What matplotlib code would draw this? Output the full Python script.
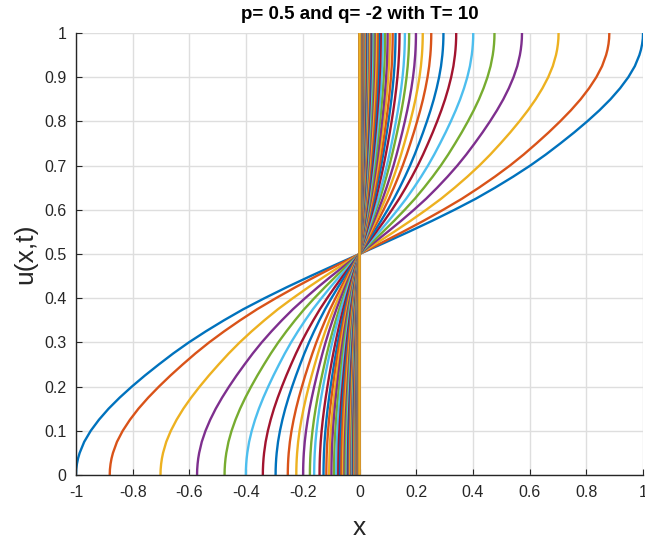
import matplotlib
matplotlib.use("Agg")
import matplotlib.pyplot as plt
import numpy as np

plt.rcParams['font.family'] = ['Liberation Sans', 'DejaVu Sans']
plt.rcParams['axes.unicode_minus'] = False

# Amplitude (x at u=1 / -x at u=0) of each curve, in plotting order
amplitudes = [
    1.000, 0.881, 0.702, 0.573, 0.476, 0.401, 0.341, 0.296, 0.253, 0.223,
    0.199, 0.175, 0.160, 0.141, 0.127, 0.117, 0.107, 0.099, 0.090, 0.082,
    0.075, 0.069, 0.064, 0.058, 0.053, 0.049, 0.045, 0.041, 0.038, 0.035,
    0.032, 0.029, 0.027, 0.025, 0.023, 0.021, 0.019, 0.0175, 0.016, 0.0148,
    0.0136, 0.0125, 0.0115, 0.0106, 0.0098, 0.009, 0.0083, 0.0077, 0.0071, 0.0065,
    0.006, 0.0055, 0.0051, 0.0047, 0.0043, 0.004, 0.0037, 0.0034, 0.0031, 0.0029,
    0.0027, 0.0025, 0.0023, 0.0021, 0.0019, 0.0018, 0.0016, 0.0015, 0.0014, 0.0013,
    0.0012, 0.0011, 0.0010, 0.0009, 0.0009, 0.0008, 0.0007, 0.0007, 0.0006, 0.0006,
    0.0005, 0.0005, 0.0005, 0.0004, 0.0004, 0.0004, 0.0003, 0.0003, 0.0003, 0.0003,
    0.0003, 0.0002, 0.0002, 0.0002, 0.0002, 0.0002, 0.0002, 0.0002, 0.0001, 0.0001,
    0.0001,
]

# Shape of the outermost curve: s = 2|u-0.5|, g = |x| / amplitude
profile_s = [0, 0.05, 0.1, 0.15, 0.2, 0.25, 0.3, 0.35, 0.4, 0.45, 0.5, 0.55, 0.6,
             0.65, 0.7, 0.75, 0.8, 0.85, 0.9, 0.925, 0.95, 0.975, 1.0]
profile_g = [0, 0.087, 0.173, 0.256, 0.335, 0.41, 0.478, 0.542, 0.602, 0.657, 0.708, 0.757, 0.803,
             0.846, 0.885, 0.919, 0.948, 0.971, 0.987, 0.9927, 0.9967, 0.9992, 1.0]

matlab_colors = ['#0072BD', '#D95319', '#EDB120', '#7E2F8E', '#77AC30', '#4DBEEE', '#A2142F']

title_text = 'p= 0.5 and q= -2 with T= 10'
xlabel_text = 'x'
ylabel_text = 'u(x,t)'
xticks = [-1, -0.8, -0.6, -0.4, -0.2, 0, 0.2, 0.4, 0.6, 0.8, 1]
xticklabels = ['-1', '-0.8', '-0.6', '-0.4', '-0.2', '0', '0.2', '0.4', '0.6', '0.8', '1']
yticks = [0, 0.1, 0.2, 0.3, 0.4, 0.5, 0.6, 0.7, 0.8, 0.9, 1]
yticklabels = ['0', '0.1', '0.2', '0.3', '0.4', '0.5', '0.6', '0.7', '0.8', '0.9', '1']

s = np.array(profile_s)
g = np.array(profile_g)
u_full = np.concatenate([0.5 - s[::-1] / 2, 0.5 + s[1:] / 2])
g_full = np.concatenate([-g[::-1], g[1:]])

fig = plt.figure(figsize=(6.45, 5.4), dpi=100)
ax = fig.add_axes([0.1178, 0.1204, 0.8792, 0.8185])

for i, a in enumerate(amplitudes):
    ax.plot(a * g_full, u_full, color=matlab_colors[i % 7], lw=1.7,
            solid_joinstyle='round', solid_capstyle='butt')

ax.set_xlim(-1, 1)
ax.set_ylim(0, 1)
ax.set_xticks(xticks)
ax.set_xticklabels(xticklabels)
ax.set_yticks(yticks)
ax.set_yticklabels(yticklabels)
ax.grid(True, color='#DEDEDE', lw=1.0)
ax.set_axisbelow(True)
for side in ['top', 'right']:
    ax.spines[side].set_visible(False)
for side in ['left', 'bottom']:
    ax.spines[side].set_color('#262626')
    ax.spines[side].set_linewidth(1.0)
ax.tick_params(direction='in', length=4, width=0.8, colors='#262626', labelsize=11.5, pad=7)

ax.set_title(title_text, fontsize=13.5, fontweight='bold', pad=10)
ax.set_xlabel(xlabel_text, fontsize=19, color='#262626', labelpad=12)
ax.set_ylabel(ylabel_text, fontsize=19, color='#262626', labelpad=5)

fig.savefig('out.png', dpi=100)
